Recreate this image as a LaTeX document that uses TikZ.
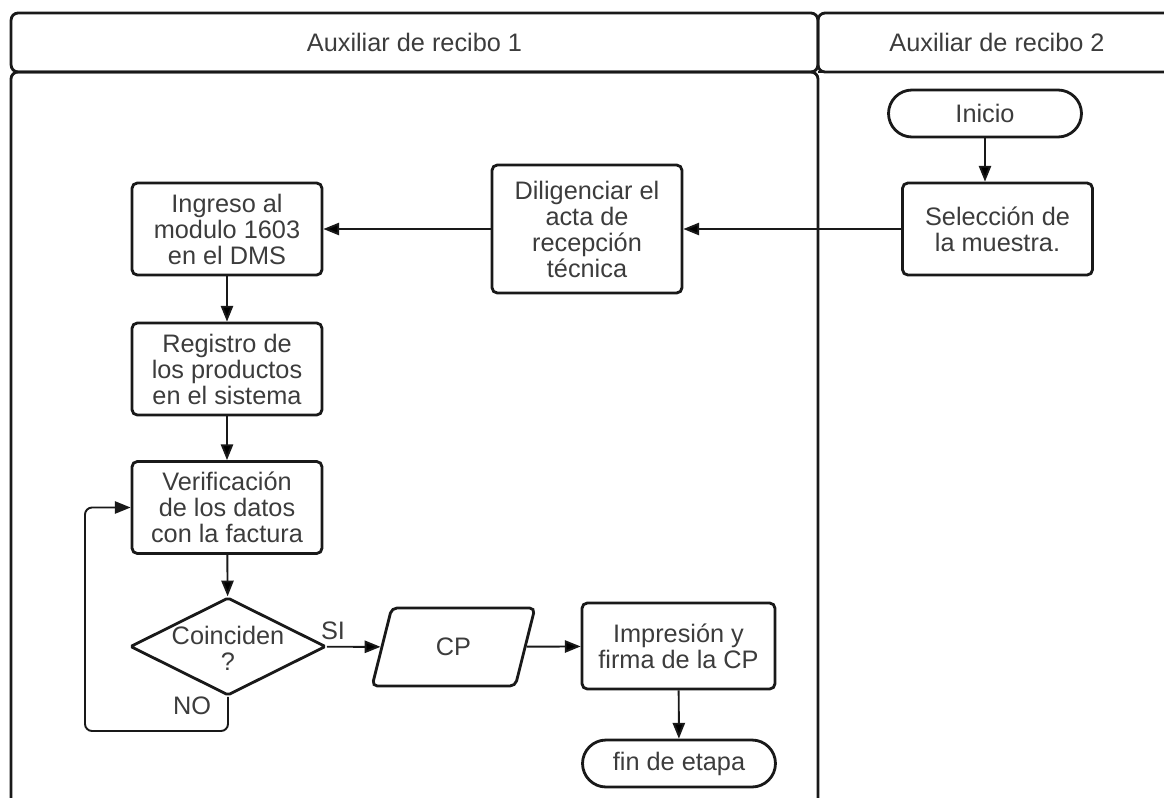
\documentclass[tikz,border=0pt]{standalone}
\usepackage{fontspec}
\setmainfont{Liberation Sans}
\usetikzlibrary{arrows.meta,shapes.geometric}
\definecolor{line_gray}{RGB}{25,25,25}
\definecolor{text_gray}{RGB}{60,60,60}

\begin{document}
\begin{tikzpicture}[x=0.02cm,y=-0.02cm,>={Triangle[length=9pt,width=7pt]},
    font=\fontsize{14.4}{14.8}\selectfont,text=text_gray]
    \tikzstyle{lane}=[draw=line_gray, line width=1.6pt, rounded corners=4pt]
    \tikzstyle{box}=[draw=line_gray, line width=1.6pt, rounded corners=3pt, align=center,
                     minimum width=3.8cm, minimum height=1.84cm, inner sep=2pt]
    \tikzstyle{term}=[style=box, minimum width=3.86cm, minimum height=0.94cm, rounded corners=0.47cm]
    \tikzstyle{decision}=[style=box, diamond, shape aspect=2, rounded corners=1pt,
                          minimum width=3.7cm, minimum height=1.86cm, inner sep=-2pt]
    \tikzstyle{io}=[style=box, trapezium, trapezium left angle=75, trapezium right angle=105,
                    trapezium stretches=true, minimum width=3.26cm, minimum height=1.56cm]
    \tikzstyle{flow}=[->, draw=line_gray, line width=1.1pt]
    \tikzstyle{lbl}=[inner sep=1pt]

    \useasboundingbox (0,0) rectangle (1164,798);

    % lanes
    \node[lane, minimum width=16.14cm, minimum height=1.18cm] (head1) at (414.5,42.5) {Auxiliar de recibo 1};
    \node[lane, minimum width=7.16cm,  minimum height=1.18cm] (head2) at (997,42.5)   {Auxiliar de recibo 2};
    \draw[lane] (11,840) -- (11,72) -- (818,72) -- (818,840);
    \draw[lane] (818,72) -- (1190,72);

    % steps
    \node[term]                          (inicio) at (985,113.5) {Inicio};
    \node[box]                           (sel)    at (997.5,229) {Selección de\\la muestra.};
    \node[box, minimum height=2.56cm]    (dil)    at (587,229)   {Diligenciar el\\acta de\\recepción\\técnica};
    \node[box]                           (ing)    at (227,229)   {Ingreso al\\modulo 1603\\en el DMS};
    \node[box]                           (reg)    at (227,369)   {Registro de\\los productos\\en el sistema};
    \node[box]                           (ver)    at (227,507.5) {Verificación\\de los datos\\con la factura};
    \node[decision]                      (coin)   at (228,646.5)
        {\raisebox{-3pt}[\height][\depth]{\begin{tabular}{@{}c@{}}Coinciden\\?\end{tabular}}};
    \node[io]                            (cp)     at (453.5,647) {CP};
    \node[box, minimum width=3.86cm, minimum height=1.72cm] (imp) at (678.5,646) {Impresión y\\firma de la CP};
    \node[term]                          (fin)    at (679,763.5) {fin de etapa};
    \node[lbl]                           (si)     at (333,631)   {SI};
    \node[lbl]                           (no)     at (192,706)   {NO};

    \path[flow]
     (inicio) edge (inicio |- sel.north)
     (sel)    edge (dil)
     (dil)    edge (ing)
     (ing)    edge (reg)
     (reg)    edge (ver)
     (ver)    edge (coin)
     (coin)   edge (cp)
     (cp)     edge (imp)
     (imp)    edge (fin)
     ;
    \draw[flow, rounded corners=4pt] (coin.south) |- (85,731) |- (ver.west);
\end{tikzpicture}
\end{document}
